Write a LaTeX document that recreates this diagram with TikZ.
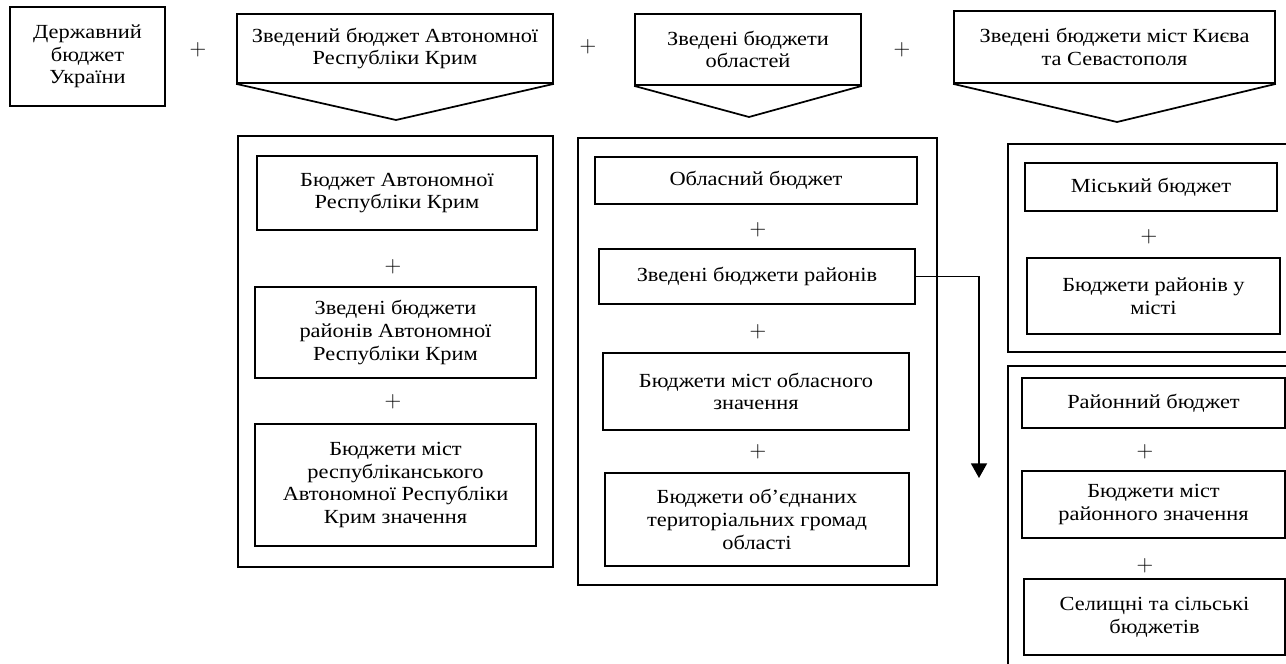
\documentclass[tikz,border=0pt]{standalone}
\usepackage{fontspec}
\setmainfont{Liberation Serif}[FakeStretch=1.12]
\usetikzlibrary{arrows.meta}

\begin{document}
\begin{tikzpicture}[x=0.75pt, y=-0.75pt, line width=1.3pt,
  box/.style={draw, align=center, inner sep=0pt, font=\fontsize{15}{17}\selectfont},
  panel/.style={draw, inner sep=0pt},
  plus/.style={inner sep=0pt, font=\fontsize{18}{18}\selectfont},
  >={Triangle[length=11pt, width=12pt]}]

\useasboundingbox (0,0) rectangle (1286,664);
\clip (0,0) rectangle (1286,664);

% Top row
\node[box, minimum width=116.25pt, minimum height=74.25pt] (gov) at (87.5,56.5)
  {Державний\\бюджет\\України};
\node[box, minimum width=237pt, minimum height=51.75pt] (crimea) at (395,48.5)
  {Зведений бюджет Автономної\\Республіки Крим};
\node[box, minimum width=169.5pt, minimum height=53.25pt] (oblast) at (748,49.5)
  {Зведені бюджети\\областей};
\node[box, minimum width=240.75pt, minimum height=54pt] (kyiv) at (1114.5,47)
  {Зведені бюджети міст Києва\\та Севастополя};

% Chevrons under the top boxes
\coordinate (crimeaTip) at (396,120);
\coordinate (oblastTip) at (749,117);
\coordinate (kyivTip) at (1117,122);
\draw (crimea.south west) -- (crimeaTip) -- (crimea.south east);
\draw (oblast.south west) -- (oblastTip) -- (oblast.south east);
\draw (kyiv.south west) -- (kyivTip) -- (kyiv.south east);

% Panels
\node[panel, minimum width=236.25pt, minimum height=323.25pt] (crimeaPanel) at (395.5,351.5) {};
\node[panel, minimum width=269.25pt, minimum height=335.25pt] (oblastPanel) at (757.5,361.5) {};
\node[panel, minimum width=219pt, minimum height=156pt] (cityPanel) at (1154,248) {};
\node[panel, minimum width=219pt, minimum height=250.5pt] (raionPanel) at (1154,533) {};

% Left panel
\node[box, minimum width=210pt, minimum height=55.5pt] (arkBudget) at (397,193)
  {Бюджет Автономної\\Республіки Крим};
\node[box, minimum width=210.75pt, minimum height=68.25pt] (arkRaions) at (395.5,332.5)
  {Зведені бюджети\\районів Автономної\\Республіки Крим};
\node[box, minimum width=210.75pt, minimum height=91.5pt] (arkCities) at (395.5,485)
  {Бюджети міст\\республіканського\\Автономної Республіки\\Крим значення};

% Middle panel
\node[box, minimum width=241.5pt, minimum height=35.25pt] (oblBudget) at (756,180.5)
  {Обласний бюджет};
\node[box, minimum width=237pt, minimum height=41.25pt] (oblRaions) at (757,276.5)
  {Зведені бюджети районів};
\node[box, minimum width=229.5pt, minimum height=57.75pt] (oblCities) at (756,391.5)
  {Бюджети міст обласного\\значення};
\node[box, minimum width=228pt, minimum height=69.75pt] (oblGromady) at (757,519.5)
  {Бюджети об’єднаних\\територіальних громад\\області};

% Right panels
\node[box, minimum width=189pt, minimum height=36pt] (cityBudget) at (1151,187)
  {Міський бюджет};
\node[box, minimum width=189.75pt, minimum height=57pt] (cityRaions) at (1153.5,296)
  {Бюджети районів у\\місті};
\node[box, minimum width=197.25pt, minimum height=37.5pt] (raionBudget) at (1153.5,403)
  {Районний бюджет};
\node[box, minimum width=197.25pt, minimum height=50.25pt] (raionCities) at (1153.5,504.5)
  {Бюджети міст\\районного значення};
\node[box, minimum width=195.75pt, minimum height=57pt] (villages) at (1154.5,617)
  {Селищні та сільські\\бюджетів};

% Plus signs
\foreach \px/\py [count=\i] in {198/50, 588/47, 902/50, 393/267, 393/402,
    758/230, 758/332, 758/452, 1149/237, 1145/452, 1145/566}
  \node[plus] (plus\i) at (\px,\py) {$+$};

% Arrow from district budgets
\coordinate (drop) at (979,478);
\draw[->] (oblRaions.east) -| (drop);

\end{tikzpicture}
\end{document}
